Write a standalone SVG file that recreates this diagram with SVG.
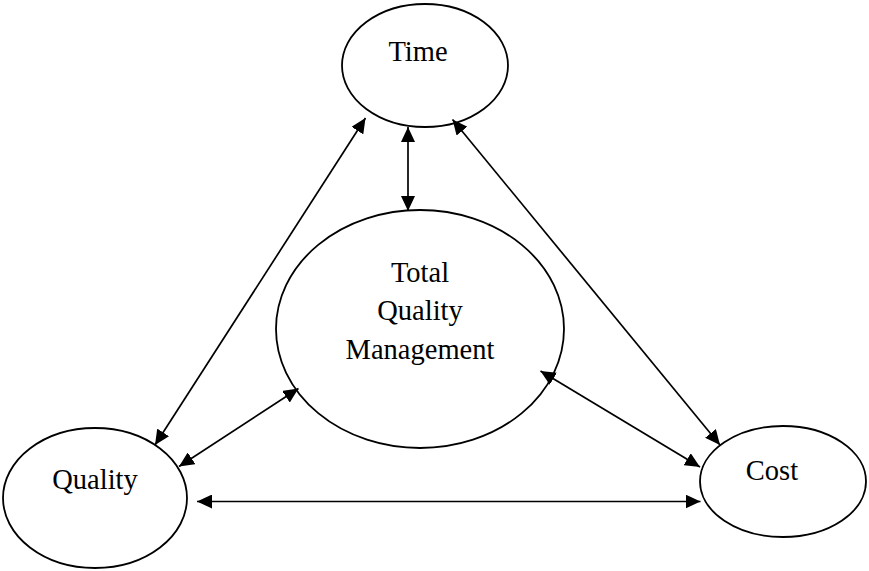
<svg xmlns="http://www.w3.org/2000/svg" width="869" height="571" viewBox="0 0 869 571">
  <style>
    .node ellipse { fill: #ffffff; stroke: #000000; stroke-width: 1.8; }
    .node text { font-family: "Liberation Serif", "Times New Roman", serif; font-size: 28.5px; fill: #000000; text-anchor: middle; }
    .conn line { stroke: #000000; stroke-width: 1.7; fill: none; marker-start: url(#ah); marker-end: url(#ah); }
  </style>
  <defs>
    <marker id="ah" viewBox="0 0 15 14" refX="15" refY="7" markerWidth="15" markerHeight="14" markerUnits="userSpaceOnUse" orient="auto-start-reverse">
      <path d="M0,0 L15,7 L0,14 z" fill="#000000"/>
    </marker>
  </defs>
  <rect width="869" height="571" fill="#ffffff"/>
  <g id="nodes">
    <g id="time" class="node">
      <ellipse cx="425" cy="65.5" rx="83" ry="61.5"/>
      <text x="418" y="60.5">Time</text>
    </g>
    <g id="tqm" class="node">
      <ellipse cx="420" cy="329" rx="144" ry="119"/>
      <text x="420" y="282">Total</text>
      <text x="420" y="320">Quality</text>
      <text x="420" y="359">Management</text>
    </g>
    <g id="quality" class="node">
      <ellipse cx="95" cy="498" rx="92" ry="70"/>
      <text x="95" y="489">Quality</text>
    </g>
    <g id="cost" class="node">
      <ellipse cx="783" cy="481.5" rx="83" ry="55.5"/>
      <text x="772" y="480">Cost</text>
    </g>
  </g>
  <g id="connectors" class="conn">
    <line x1="408" y1="127" x2="408" y2="211"/>
    <line x1="365.5" y1="118" x2="155" y2="445"/>
    <line x1="452.5" y1="119.5" x2="720" y2="445"/>
    <line x1="298.5" y1="388.5" x2="179" y2="466.5"/>
    <line x1="540.5" y1="371" x2="700" y2="467"/>
    <line x1="197" y1="501.5" x2="700.5" y2="501.5"/>
  </g>
</svg>
